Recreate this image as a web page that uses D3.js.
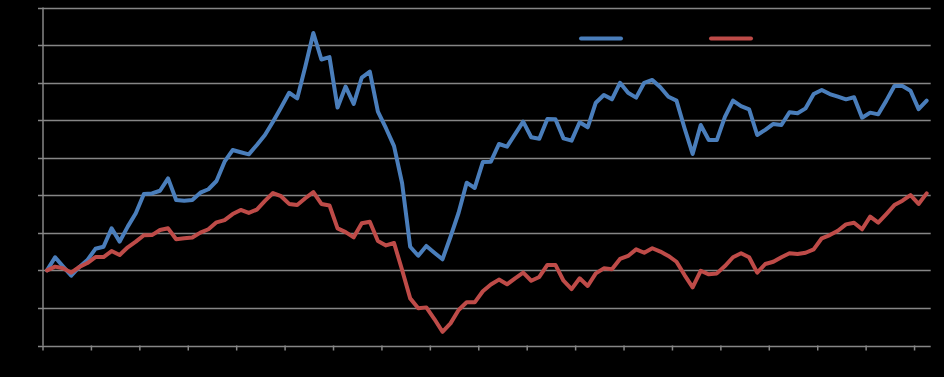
<!DOCTYPE html>
<html>
<head>
<meta charset="utf-8">
<script src="https://cdn.jsdelivr.net/npm/d3@7"></script>
<style>
  html, body { margin: 0; padding: 0; background: #000; }
  svg { display: block; }
</style>
</head>
<body>
<svg id="chart" width="944" height="377"></svg>
<script>
// bimonthly index values, both series start at 100
const periods = d3.range(110);

const seriesBlue = [
  100, 107, 102, 97.2, 101.8, 105.5, 111.5, 112.6, 122.4, 115.3,
  123.3, 130.4, 140.7, 141, 142.4, 149, 137.5, 137.1, 137.5, 141.4,
  143.2, 147.6, 157.9, 164.1, 162.9, 161.8, 166.8, 172.1, 179.2, 186.8,
  194.6, 191.6, 208.5, 226.4, 212.3, 213.6, 186.7, 197.9, 188.6, 202.7,
  205.8, 184.5, 175.7, 166.2, 146.4, 112.6, 107.8, 113, 109.4, 105.9,
  117.9, 130.7, 146.7, 143.9, 157.7, 157.9, 167.3, 165.9, 172.6, 179.2,
  170.9, 170.1, 180.6, 180.5, 170.3, 169.1, 178.9, 176.2, 189.3, 193.4,
  191.1, 199.9, 194.6, 192, 199.9, 201.4, 197.5, 192.5, 190.4, 175.7,
  162, 177.4, 169.4, 169.4, 181.8, 190.4, 187.5, 185.8, 172.1, 174.8,
  178, 177.4, 184.2, 183.7, 186.3, 193.9, 196.1, 193.9, 192.5, 191.1,
  192.2, 181.3, 184, 183.1, 190.4, 198.2, 198.2, 195.7, 185.9, 190.4
];

const seriesRed = [
  100, 102, 101.1, 98.8, 101.8, 103.9, 107.1, 107.1, 110.3, 108.2,
  112.3, 115.3, 118.7, 118.8, 121.5, 122.4, 116.6, 117.1, 117.5, 120.1,
  121.9, 125.6, 126.8, 130, 132.2, 130.6, 132.4, 137, 141.2, 139.5,
  135.4, 134.8, 138.4, 141.7, 135.4, 134.6, 122.4, 120.4, 117.6, 125.1,
  125.9, 115.6, 113.3, 114.6, 100.2, 85.1, 79.8, 80.3, 74.1, 67.3,
  71.8, 78.9, 83, 83, 88.9, 92.5, 95.1, 92.6, 95.8, 98.8,
  94.5, 96.5, 102.9, 102.9, 94.5, 90, 95.8, 91.7, 98.4, 101.1,
  100.6, 106.1, 107.7, 111.2, 109.4, 111.8, 110, 107.7, 104.6, 97.5,
  91, 99.8, 97.9, 98.4, 102.3, 107, 109.1, 107, 98.8, 103.4,
  104.6, 107, 109.1, 108.7, 109.4, 111.2, 117.1, 118.8, 121.1, 124.5,
  125.4, 121.9, 128.6, 125.4, 130, 134.8, 137.1, 140.1, 135.4, 141
];

const yTicks = d3.range(60, 241, 20);

const svg = d3.select('#chart');
const plot = { left: 43, right: 930.7, top: 7.5, bottom: 345.5 };

const xBand = d3.scaleBand()
  .domain(periods)
  .range([plot.left, plot.right])
  .paddingInner(0)
  .paddingOuter(0);

const y = d3.scaleLinear()
  .domain([60, 240])
  .range([plot.bottom, plot.top]);

const xPos = (i) => xBand(i) + xBand.bandwidth() / 2;

// horizontal gridlines
svg.append('g')
  .selectAll('line')
  .data(yTicks)
  .join('line')
  .attr('x1', plot.left)
  .attr('x2', plot.right)
  .attr('y1', (d) => Math.round(y(d)) + 0.5)
  .attr('y2', (d) => Math.round(y(d)) + 0.5)
  .attr('stroke', '#868686')
  .attr('stroke-width', 1.5);

// left axis line and tick marks
svg.append('line')
  .attr('x1', plot.left)
  .attr('x2', plot.left)
  .attr('y1', plot.top)
  .attr('y2', plot.bottom)
  .attr('stroke', '#868686')
  .attr('stroke-width', 1.5);

svg.append('g')
  .selectAll('line')
  .data(yTicks)
  .join('line')
  .attr('x1', plot.left - 5)
  .attr('x2', plot.left)
  .attr('y1', (d) => Math.round(y(d)) + 0.5)
  .attr('y2', (d) => Math.round(y(d)) + 0.5)
  .attr('stroke', '#868686')
  .attr('stroke-width', 1.5);

// bottom tick marks, one every 6 periods
svg.append('g')
  .selectAll('line')
  .data(periods.filter((d) => d % 6 === 0))
  .join('line')
  .attr('x1', (d) => xBand(d))
  .attr('x2', (d) => xBand(d))
  .attr('y1', plot.bottom)
  .attr('y2', plot.bottom + 5)
  .attr('stroke', '#868686')
  .attr('stroke-width', 1.5);

const line = d3.line()
  .x((d, i) => xPos(i))
  .y((d) => y(d));

const series = [
  { values: seriesBlue, color: '#4A7EBB', legendX: 581 },
  { values: seriesRed, color: '#BE4B48', legendX: 711 }
];

svg.append('g')
  .selectAll('path')
  .data(series)
  .join('path')
  .attr('d', (d) => line(d.values))
  .attr('fill', 'none')
  .attr('stroke', (d) => d.color)
  .attr('stroke-width', 4)
  .attr('stroke-linejoin', 'round')
  .attr('stroke-linecap', 'round');

// legend samples
svg.append('g')
  .selectAll('line')
  .data(series)
  .join('line')
  .attr('x1', (d) => d.legendX)
  .attr('x2', (d) => d.legendX + 40)
  .attr('y1', 38.5)
  .attr('y2', 38.5)
  .attr('stroke', (d) => d.color)
  .attr('stroke-width', 4)
  .attr('stroke-linecap', 'round');
</script>
</body>
</html>
